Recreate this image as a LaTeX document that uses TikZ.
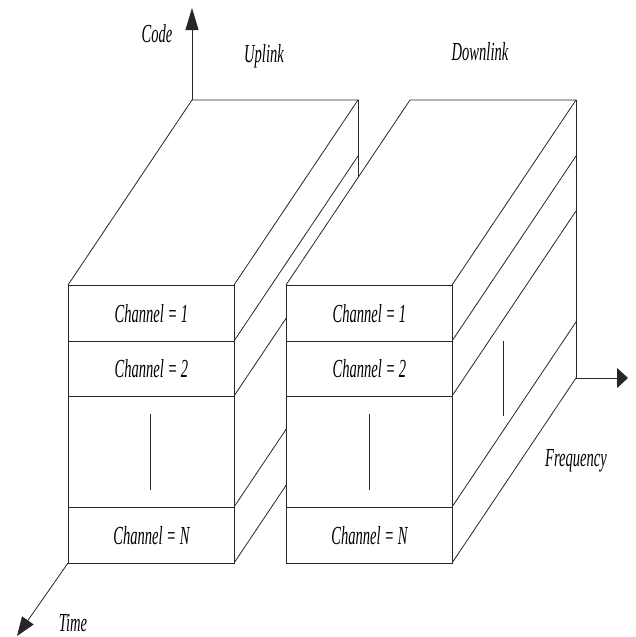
\documentclass[tikz,border=0pt]{standalone}
\usepackage{fontspec}
\setmainfont{Liberation Serif}
\usetikzlibrary{arrows.meta}
\newcommand\ctx[1]{\scalebox{0.56}[1]{#1}}
\begin{document}
\begin{tikzpicture}[x=1pt,y=-1pt,line width=0.8pt,
  ln/.style={draw=black!85,line join=miter},
  row/.style={draw=black!85,fill=white,minimum width=166pt,inner sep=0pt,anchor=north west,
    font=\fontsize{26}{30}\selectfont\itshape},
  lbl/.style={font=\fontsize{26}{30}\selectfont\itshape,inner sep=0pt},
  bar/.style={draw=black!85,line width=0.8pt}]
\useasboundingbox (0,0) rectangle (635,637);
% ---- left (uplink) box
\coordinate (LA) at (68,285);
\coordinate (LB) at (234,285);
\coordinate (LC) at (358,100);
\coordinate (LD) at (192,100);
\coordinate (LE) at (358,378);
\coordinate (codetip) at (192,8);
\draw[ln,-{Triangle[length=22pt,width=13pt]}] (LD) -- (codetip);
\draw[ln] (LA) -- (LD) -- (LC) -- (LB);
\foreach \y in {341,396,507,563} \draw[ln] (234,\y) -- ++(124,-185);
\draw[ln] (LC) -- (LE);
\node[row,minimum height=56pt] (l1) at (68,285) {\ctx{Channel = 1}};
\node[row,minimum height=55pt] (l2) at (68,341) {\ctx{Channel = 2}};
\node[row,minimum height=111pt] (l3) at (68,396) {};
\node[row,minimum height=56pt] (l4) at (68,507) {\ctx{Channel = N}};
\draw[bar] (150,414) -- (150,490);
% ---- right (downlink) box
\coordinate (RA) at (286,285);
\coordinate (RB) at (452,285);
\coordinate (RC) at (576,100);
\coordinate (RD) at (410,100);
\coordinate (RE) at (576,378);
\coordinate (RF) at (452,563);
\coordinate (RG) at (286,563);
\fill[white] (RA) -- (RD) -- (RC) -- (RE) -- (RF) -- (RG) -- cycle;
\draw[ln] (RA) -- (RD) -- (RC) -- (RB);
\foreach \y in {341,396,507,563} \draw[ln] (452,\y) -- ++(124,-185);
\draw[ln] (RC) -- (RE);
\draw[bar] (503,341) -- (503,416);
\node[row,minimum height=56pt] (r1) at (286,285) {\ctx{Channel = 1}};
\node[row,minimum height=55pt] (r2) at (286,341) {\ctx{Channel = 2}};
\node[row,minimum height=111pt] (r3) at (286,396) {};
\node[row,minimum height=56pt] (r4) at (286,507) {\ctx{Channel = N}};
\draw[bar] (369,414) -- (369,490);
% ---- axes
\coordinate (freqtip) at (628,378);
\draw[ln,-{Triangle[length=11pt,width=20pt]}] (RE) -- (freqtip);
\coordinate (timetip) at (17,636);
\draw[ln,-{Triangle[length=19pt,width=14pt]}] (LA |- RG) -- (timetip);
% ---- labels
\node[lbl] (code) at (157,34) {\ctx{Code}};
\node[lbl] (up) at (264,56) {\ctx{Uplink}};
\node[lbl] (down) at (480,52) {\ctx{Downlink}};
\node[lbl] (freq) at (576,461) {\ctx{Frequency}};
\node[lbl] (time) at (73,623) {\ctx{Time}};
\end{tikzpicture}
\end{document}
